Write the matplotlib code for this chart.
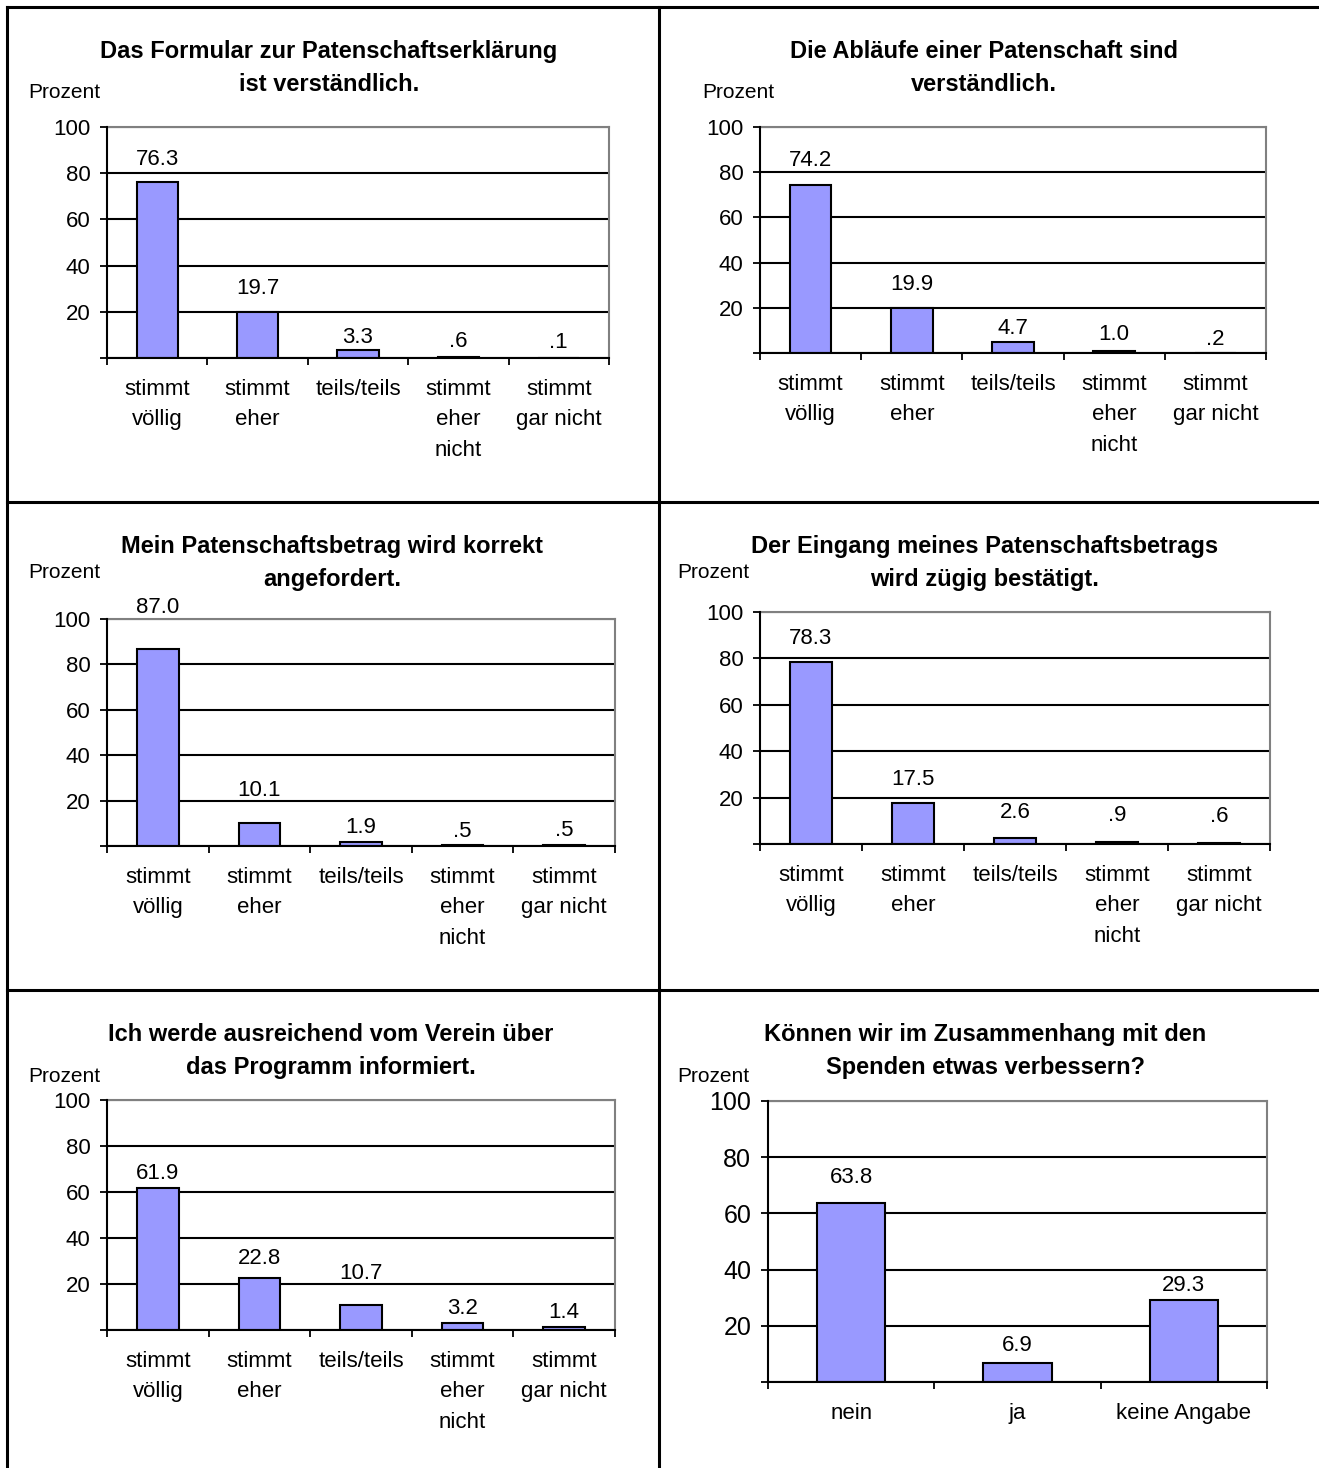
import matplotlib
matplotlib.use("Agg")
import matplotlib.pyplot as plt
import numpy as np
from matplotlib.lines import Line2D

plt.rcParams["font.family"] = ["Liberation Sans", "DejaVu Sans"]

# --- Daten ---
kat_zustimmung = ["stimmt\nvöllig", "stimmt\neher", "teils/teils",
                  "stimmt\neher\nnicht", "stimmt\ngar nicht"]
kat_verbessern = ["nein", "ja", "keine Angabe"]

titel_1 = "Das Formular zur Patenschaftserklärung\nist verständlich."
werte_1 = [76.3, 19.7, 3.3, 0.6, 0.1]

titel_2 = "Die Abläufe einer Patenschaft sind\nverständlich."
werte_2 = [74.2, 19.9, 4.7, 1.0, 0.2]

titel_3 = "Mein Patenschaftsbetrag wird korrekt\nangefordert."
werte_3 = [87.0, 10.1, 1.9, 0.5, 0.5]

titel_4 = "Der Eingang meines Patenschaftsbetrags\nwird zügig bestätigt."
werte_4 = [78.3, 17.5, 2.6, 0.9, 0.6]

titel_5 = "Ich werde ausreichend vom Verein über\ndas Programm informiert."
werte_5 = [61.9, 22.8, 10.7, 3.2, 1.4]

titel_6 = "Können wir im Zusammenhang mit den\nSpenden etwas verbessern?"
werte_6 = [63.8, 6.9, 29.3]

# --- Layout (Pixel) ---
W, H = 1319, 1468
BAR_FARBE = "#9999FF"

# Abstand der Wertbeschriftung über dem Balken (px), wie im Original
abst_1 = [22, 24, 13, 15, 15]
abst_2 = [25, 24, 14, 16, 13]
abst_3 = [41, 33, 14, 13, 14]
abst_4 = [24, 24, 25, 26, 26]
abst_5 = [14, 19, 32, 14, 14]
abst_6 = [25, 17, 14]

# (links, rechts, oben, unten) der Achsen, Titelmitte, Prozent-Label, Schriftgröße Achse
panels = [
    (titel_1, kat_zustimmung, werte_1, abst_1, (107, 609, 127, 358), (329, 68), (28, 92), 16),
    (titel_2, kat_zustimmung, werte_2, abst_2, (760, 1266, 127, 353), (984, 68), (702, 93), 16),
    (titel_3, kat_zustimmung, werte_3, abst_3, (107, 615, 619, 846), (332, 563), (28, 572), 16),
    (titel_4, kat_zustimmung, werte_4, abst_4, (760, 1270, 612, 844), (985, 563), (677, 572), 16),
    (titel_5, kat_zustimmung, werte_5, abst_5, (107, 615, 1100, 1330), (331, 1051), (28, 1077), 16),
    (titel_6, kat_verbessern, werte_6, abst_6, (768, 1267, 1101, 1382), (985, 1051), (677, 1077), 18),
]


def fmt(v):
    s = f"{v:.1f}"
    return s[1:] if s.startswith("0") else s


fig = plt.figure(figsize=(W / 100, H / 100), dpi=100)

# Rahmenlinien
for (x0, y0, x1, y1) in [(7, 7, W, 7), (7, 7, 7, H), (659, 7, 659, H),
                         (7, 502, W, 502), (7, 990, W, 990)]:
    fig.add_artist(Line2D([x0 / W, x1 / W], [1 - y0 / H, 1 - y1 / H],
                          color="black", lw=2.2, transform=fig.transFigure))

for titel, kats, werte, abst, (l, r, t, b), (tx, ty), (px, py), ts in panels:
    ax = fig.add_axes([l / W, 1 - b / H, (r - l) / W, (b - t) / H])
    n = len(kats)
    x = np.arange(n)
    ax.bar(x, werte, width=0.41, color=BAR_FARBE, edgecolor="black",
           linewidth=1.5, zorder=3)
    for xi, v, d in zip(x, werte, abst):
        ax.annotate(fmt(v), (xi, v), xytext=(0, d), textcoords="offset pixels",
                    ha="center", va="center", fontsize=16, clip_on=False)

    ax.set_xlim(-0.5, n - 0.5)
    ax.set_ylim(0, 100)
    ax.set_yticks([0, 20, 40, 60, 80, 100])
    ax.set_yticklabels(["", "20", "40", "60", "80", "100"])
    ax.tick_params(axis="y", direction="out", length=5, width=1.3,
                   labelsize=ts, pad=7)
    ax.set_xticks(x)
    ax.set_xticklabels(kats, linespacing=1.6)
    ax.set_xticks(np.arange(n + 1) - 0.5, minor=True)
    ax.tick_params(axis="x", which="major", length=0, labelsize=16, pad=15)
    ax.tick_params(axis="x", which="minor", direction="out", length=5, width=1.3)

    ax.grid(axis="y", color="black", lw=1.5, zorder=1)
    ax.set_axisbelow(True)
    for s in ["top", "right"]:
        ax.spines[s].set_color("#808080")
        ax.spines[s].set_linewidth(1.5)
    for s in ["left", "bottom"]:
        ax.spines[s].set_color("black")
        ax.spines[s].set_linewidth(1.5)
        ax.spines[s].set_zorder(4)

    fig.text(tx / W, 1 - ty / H, titel, ha="center", va="center",
             fontsize=17, fontweight="bold", linespacing=1.6)
    fig.text(px / W, 1 - py / H, "Prozent", ha="left", va="center", fontsize=15)

fig.savefig("out.png", dpi=100, facecolor="white")
